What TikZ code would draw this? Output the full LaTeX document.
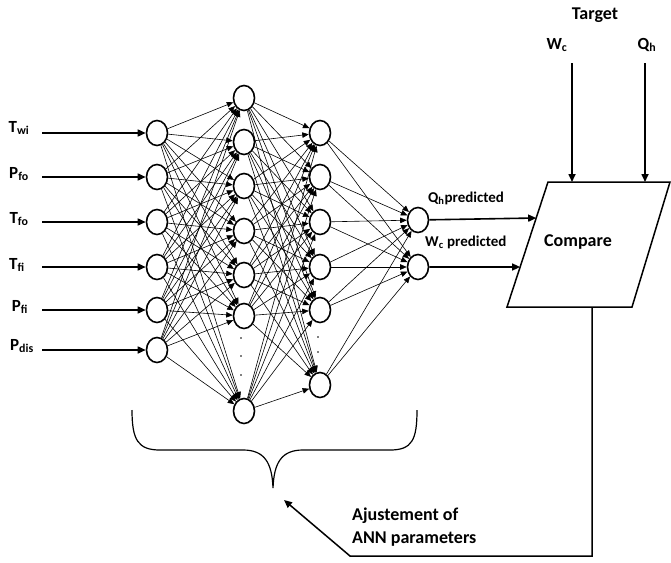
\documentclass[tikz,border=0pt]{standalone}
\usepackage{fontspec}
\setmainfont{Carlito}
\usetikzlibrary{arrows.meta,shapes.geometric,calc}
\begin{document}
\begin{tikzpicture}[x=1pt,y=-1pt,
  neuron/.style={ellipse,draw,line width=1.6pt,minimum width=21pt,minimum height=25pt,inner sep=0pt},
  link/.style={line width=0.6pt,-{Triangle[length=6.5pt,width=5.5pt]}},
  bigarrow/.style={line width=1.6pt,-{Triangle[length=8pt,width=7pt]}},
  lbl/.style={font=\bfseries\fontsize{15}{17}\selectfont,inner sep=0pt},
  biglbl/.style={font=\bfseries\fontsize{18}{20}\selectfont,inner sep=0pt},
  inlbl/.style={font=\bfseries\fontsize{17}{19}\selectfont,inner sep=0pt},
  dotmark/.style={circle,fill,inner sep=0pt,minimum size=1.6pt},
  fb/.style={line width=1.5pt}]
\useasboundingbox (0,0) rectangle (671,562);
% input layer
\node[neuron] (i1) at (157,133) {};
\node[neuron] (i2) at (157,177) {};
\node[neuron] (i3) at (157,222) {};
\node[neuron] (i4) at (157,267) {};
\node[neuron] (i5) at (157,310) {};
\node[neuron] (i6) at (157,350) {};
% hidden layer 1
\node[neuron] (h1) at (244,98) {};
\node[neuron] (h2) at (244,142) {};
\node[neuron] (h3) at (244,186) {};
\node[neuron] (h4) at (244,231) {};
\node[neuron] (h5) at (244,275) {};
\node[neuron] (h6) at (244,316) {};
\node[neuron] (h7) at (244,411) {};
\node[dotmark] (hd1) at (241,338) {};
\node[dotmark] (hd2) at (241,356) {};
\node[dotmark] (hd3) at (241,375) {};
% hidden layer 2
\node[neuron] (g1) at (320,133) {};
\node[neuron] (g2) at (320,177) {};
\node[neuron] (g3) at (320,222) {};
\node[neuron] (g4) at (320,267) {};
\node[neuron] (g5) at (320,310) {};
\node[neuron] (g6) at (320,385) {};
\node[dotmark] (gd1) at (318,337) {};
\node[dotmark] (gd2) at (318,352) {};
% output layer
\node[neuron] (o1) at (418,220) {};
\node[neuron] (o2) at (418,267) {};
% links
\foreach \a in {1,...,6}{\foreach \b in {1,...,7}{\draw[link] (i\a) -- (h\b);}}
\foreach \a in {1,...,7}{\foreach \b in {1,...,6}{\draw[link] (h\a) -- (g\b);}}
\foreach \a in {1,...,6}{\foreach \b in {1,2}{\draw[link] (g\a) -- (o\b);}}
% input labels and arrows
\node[inlbl] (l1) at (19,128) {T\textsubscript{wi}};
\node[inlbl] (l2) at (19,174) {P\textsubscript{fo}};
\node[inlbl] (l3) at (19,219) {T\textsubscript{fo}};
\node[inlbl] (l4) at (17,265) {T\textsubscript{fi}};
\node[inlbl] (l5) at (20,307) {P\textsubscript{fi}};
\node[inlbl] (l6) at (22,346) {P\textsubscript{dis}};
\coordinate (s1) at (42,133);
\coordinate (s2) at (42,177);
\coordinate (s3) at (42,222);
\coordinate (s4) at (42,267);
\coordinate (s5) at (42,310);
\coordinate (s6) at (42,350);
\foreach \k in {1,...,6}{\draw[bigarrow] (s\k) -- (i\k);}
% output labels
\node[lbl,anchor=west] (q) at (428,198) {Q\textsubscript{h}predicted};
\node[lbl,anchor=west] (w) at (425,242) {W\textsubscript{c} predicted};
% compare box
\coordinate (cTL) at (548,182);
\coordinate (cTR) at (670,182);
\coordinate (cBR) at (632,307);
\coordinate (cBL) at (507,307);
\draw[line width=1.5pt,line join=miter] (cTL) -- (cTR) -- (cBR) -- (cBL) -- cycle;
\node[biglbl] (cmp) at (578,242) {Compare};
\coordinate (e1) at ($(cTL)!0.288!(cBL)$);
\coordinate (e2) at ($(cTL)!0.68!(cBL)$);
\draw[bigarrow] (o1) -- (e1);
\draw[bigarrow] (o2) -- (e2);
% targets
\node[biglbl] (tgt) at (595,15) {Target};
\node[inlbl] (wt) at (557,45) {W\textsubscript{c}};
\node[inlbl] (qt) at (647,45) {Q\textsubscript{h}};
\coordinate (wa) at (572,63);
\coordinate (qa) at (645,63);
\coordinate (wb) at (572,182);
\coordinate (qb) at (645,182);
\draw[bigarrow] (wa) -- (wb);
\draw[bigarrow] (qa) -- (qb);
% brace
\draw[line width=1.2pt] (132,410) .. controls (132,440) and (138,450) .. (160,450)
  -- (243,450) .. controls (264,450) and (272,462) .. (273,488)
  .. controls (274,462) and (282,450) .. (303,450)
  -- (390,450) .. controls (412,450) and (417,440) .. (417,410);
\coordinate (btip) at (284,500);
% feedback
\coordinate (f0) at (592,307);
\coordinate (f1) at (592,556);
\coordinate (f2) at (350,556);
\draw[fb,-{Triangle[length=8pt,width=7pt]}] (f0) -- (f1) -- (f2) -- (btip);
\node[biglbl,anchor=west] (adj1) at (352,516) {Ajustement of};
\node[biglbl,anchor=west] (adj2) at (352,539) {ANN parameters};
\end{tikzpicture}
\end{document}
